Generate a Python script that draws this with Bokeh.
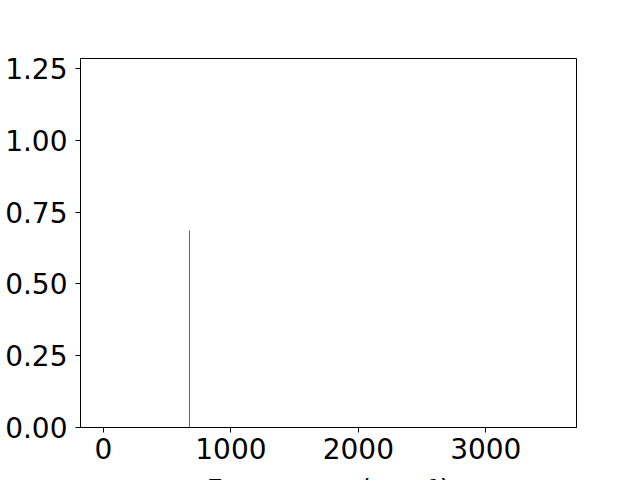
from bokeh.plotting import figure
from bokeh.layouts import column
from bokeh.models import Range1d, FixedTicker, PrintfTickFormatter, Label
from bokeh.embed import file_html
from bokeh.resources import INLINE

# Data
frequencies = [675.0]
intensities = [0.686]
x_ticks = [0, 1000, 2000, 3000]
y_ticks = [0.0, 0.25, 0.5, 0.75, 1.0, 1.25]
x_label = "Frequency (cm\u207b\u00b9)"

FONT = "DejaVu Sans"
FS = "28px"

fig = figure(width=624, height=472, output_backend="svg", toolbar_location=None,
             x_range=Range1d(-180, 3712), y_range=Range1d(0, 1.285),
             min_border_left=80, min_border_right=48, min_border_top=58, min_border_bottom=45)

fig.segment(x0=frequencies, y0=[0] * len(frequencies), x1=frequencies, y1=intensities,
            line_color="#1f77b4", line_width=1)

fig.grid.visible = False
fig.outline_line_color = "black"
fig.outline_line_width = 1
fig.outline_line_alpha = 1
fig.background_fill_color = "white"
fig.border_fill_color = "white"

for ax in (fig.xaxis[0], fig.yaxis[0]):
    ax.axis_line_color = "black"
    ax.axis_line_width = 1
    ax.major_tick_line_color = "black"
    ax.major_tick_out = 5
    ax.major_tick_in = 0
    ax.minor_tick_out = 0
    ax.minor_tick_in = 0
    ax.major_label_text_font = FONT
    ax.major_label_text_font_size = FS
    ax.major_label_text_color = "black"

fig.xaxis[0].ticker = FixedTicker(ticks=x_ticks)
fig.yaxis[0].ticker = FixedTicker(ticks=y_ticks)
fig.yaxis[0].formatter = PrintfTickFormatter(format="%.2f")
fig.xaxis[0].major_label_standoff = 5
fig.yaxis[0].major_label_standoff = 8

# Strip below the plot that holds the (cut-off) x-axis title
strip = figure(width=624, height=8, output_backend="svg", toolbar_location=None,
               x_axis_type=None, y_axis_type=None,
               min_border_left=0, min_border_right=0, min_border_top=0, min_border_bottom=0)
strip.grid.visible = False
strip.outline_line_color = None
strip.background_fill_color = "white"
strip.border_fill_color = "white"
lab = Label(x=248, y=11, x_units="screen", y_units="screen", text=x_label,
            text_align="center", text_baseline="top", text_font=FONT,
            text_font_size=FS, text_color="black")
strip.add_layout(lab)

p = column(fig, strip, spacing=0)

open("out.html", "w").write(file_html(p, INLINE))
